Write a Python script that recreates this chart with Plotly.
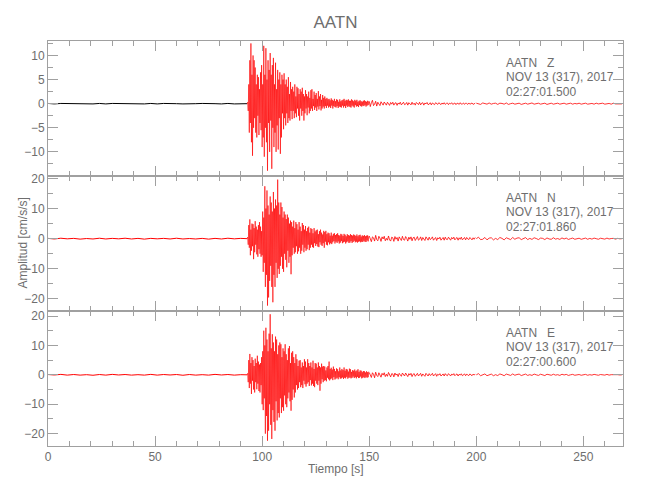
import plotly.graph_objects as go
from plotly.subplots import make_subplots

# Estación y componentes
station = "AATN"
components = ["Z", "N", "E"]
date_label = "NOV 13 (317), 2017"
start_times = ["02:27:01.500", "02:27:01.860", "02:27:00.600"]

# Inicio y paso de muestreo de cada tramo de la traza (s)
seg_t0 = [0.0, 93.0, 150.0, 200.0]
seg_dt = [3.0, 0.25, 0.5, 1.0]
x_max = 268.5

# Componente Z [cm/s/s]
z_pre = [0.05, -0.05, 0.05, 0.0, 0.05, -0.05, 0.0, -0.05, 0.05, -0.05,
         0.05, 0.0, 0.05, -0.05, 0.0, -0.05, 0.05, -0.05, 0.05, -0.05,
         0.0, -0.05, 0.05, 0.0, 0.05, -0.05, 0.0, -0.05, 0.05, -0.05,
         0.0, 0.0]
z_main = [0.0, 0.3, -1.5, 4.0, -6.0, 9.0, -4.0, 12.5, -8.0, 6.0, -10.8, 10.0,
          -5.0, 9.0, -3.0, 7.5, -6.0, 4.0, -7.0, 6.0, -2.5, 5.5, -6.5, 3.0,
          -4.0, 6.5, -5.5, 8.0, -9.0, 4.0, -7.0, 12.0, -11.0, 6.0, -5.0, 11.5,
          -8.0, 5.0, -13.9, 9.0, -4.0, 7.0, -10.0, 10.5, -3.5, 6.0, -13.5, 8.0,
          -5.0, 9.5, -9.0, 4.0, -6.0, 8.5, -10.0, 3.0, -4.5, 7.0, -9.5, 5.0,
          -3.0, 6.5, -10.4, 4.0, -7.0, 6.0, -2.0, 5.0, -5.3, 6.3, -3.0, 4.0,
          -4.5, 5.0, -2.0, 3.5, -4.0, 5.5, -3.0, 2.0, -3.5, 4.5, -1.5, 3.0,
          -3.2, 3.5, -1.5, 2.5, -3.0, 4.0, -2.0, 1.5, -2.8, 3.5, -1.0, 3.2,
          -2.5, 2.0, -3.5, 3.0, -1.0, 2.5, -2.5, 3.3, -1.5, 2.0, -3.5, 1.5,
          -2.0, 2.8, -1.0, 2.0, -2.4, 1.5, -0.8, 2.5, -2.0, 1.2, -1.5, 2.8,
          -1.0, 3.0, -1.5, 1.0, -0.5, 2.5, -1.3, 1.8, -0.8, 2.2, -1.5, 1.0,
          -0.6, 2.6, -1.2, 1.5, -0.5, 2.0, -1.4, 0.8, -1.0, 1.8, -0.6, 1.2,
          -1.0, 1.5, -0.5, 1.0, -0.9, 1.2, -0.4, 0.9, -0.8, 1.0, -0.6, 0.7,
          -0.9, 1.1, -0.4, 0.8, -1.0, 0.6, -0.5, 1.0, -0.7, 0.5, -0.8, 0.9,
          -0.5, 0.8, -0.9, 0.4, -0.6, 0.9, -0.7, 0.5, -0.8, 0.7, -0.4, 0.8,
          -0.8, 1.0, -0.5, 0.6, -0.9, 0.8, -0.4, 0.7, -0.7, 0.9, -0.5, 0.6,
          -0.7, 0.6, -0.8, 0.9, -0.4, 0.7, -0.6, 0.5, -0.8, 0.8, -0.3, 0.6,
          -0.6, 0.8, -0.5, 0.4, -0.7, 0.6, -0.3, 0.7, -0.5, 0.5, -0.6, 0.4,
          -0.4, 0.6, -0.5, 0.7, -0.3, 0.5, -0.6, 0.4, -0.4, 0.6, -0.3, 0.5]
z_coda = [0.5, -0.6, 0.2, 0.7, -0.4, -0.1, 0.5, -0.5, 0.3, -0.2,
          -0.4, 0.4, 0.1, -0.3, 0.35, -0.15, -0.3, 0.3, 0.05, -0.35,
          0.25, -0.1, 0.3, -0.3, 0.1, 0.2, -0.35, 0.15, -0.1, 0.3,
          -0.25, 0.05, 0.3, -0.2, -0.1, 0.25, -0.3, 0.2, 0.0, -0.25,
          0.3, -0.15, 0.1, -0.3, 0.25, 0.0, -0.2, 0.3, -0.25, 0.1,
          0.2, -0.3, 0.15, -0.05, 0.25, -0.2, -0.1, 0.2, -0.25, 0.15,
          0.05, -0.2, 0.2, -0.1, -0.15, 0.2, 0.0, -0.2, 0.15, -0.1,
          0.2, -0.15, 0.05, 0.15, -0.2, 0.1, -0.05, 0.2, -0.15, 0.0,
          0.15, -0.2, 0.1, 0.05, -0.15, 0.2, -0.1, -0.05, 0.15, -0.15,
          0.1, 0.05, -0.15, 0.15, -0.1, 0.0, 0.15, -0.15, 0.05, 0.1]
z_tail = [0.1, 0.05, -0.15, 0.15, -0.05, -0.1, 0.15, -0.1, 0.05, 0.1,
          -0.15, 0.1, 0.05, -0.1, 0.15, -0.15, 0.0, 0.1, -0.1, 0.05,
          0.1, -0.15, 0.05, 0.1, -0.1, 0.0, 0.15, -0.1, -0.05, 0.1,
          -0.1, 0.05, 0.1, -0.15, 0.05, 0.1, -0.1, 0.0, 0.1, -0.1,
          0.05, 0.1, -0.1, 0.0, 0.1, -0.1, 0.05, -0.05, 0.1, -0.1,
          0.0, 0.1, -0.1, 0.05, 0.05, -0.1, 0.1, -0.05, 0.0, 0.1,
          -0.1, 0.05, 0.05, -0.1, 0.1, -0.05, 0.0, 0.05, -0.05]

# Componente N [cm/s/s]
n_pre = [0.1, -0.1, 0.15, -0.05, 0.1, -0.15, 0.05, -0.1, 0.15, -0.1,
         0.1, -0.05, 0.15, -0.1, 0.1, -0.15, 0.1, -0.05, 0.1, -0.1,
         0.15, -0.1, 0.05, -0.1, 0.1, -0.15, 0.1, -0.1, 0.15, -0.05,
         0.1, 0.0]
n_main = [0.0, 0.5, -2.0, 4.5, -3.0, 6.4, -5.5, 3.0, -4.0, 5.0, -2.5, 4.8,
          -6.8, 3.5, -4.5, 5.8, -2.0, 4.0, -5.2, 3.0, -6.0, 4.5, -3.5, 5.5,
          -5.0, 4.0, -6.0, 2.5, -5.5, 9.0, -11.0, 7.0, -8.0, 17.4, -16.0, 10.0,
          -12.0, 16.0, -22.2, 11.0, -19.5, 8.0, -14.0, 14.0, -9.0, 12.0, -16.0, 9.0,
          -21.1, 15.5, -12.0, 10.0, -16.0, 13.0, -8.0, 11.0, -13.0, 19.6, -10.0, 12.0,
          -11.7, 8.0, -9.0, 12.0, -6.0, 10.5, -10.0, 7.0, -11.0, 9.0, -5.0, 8.0,
          -7.0, 6.5, -9.5, 8.0, -4.0, 7.0, -8.0, 5.0, -6.0, 6.0, -11.8, 5.5,
          -5.5, 4.0, -3.0, 6.0, -5.0, 3.5, -4.5, 5.5, -2.5, 4.8, -5.0, 3.0,
          -4.2, 5.5, -3.0, 4.0, -5.0, 2.5, -4.0, 5.2, -2.0, 4.5, -4.5, 3.0,
          -3.0, 4.2, -4.0, 2.5, -3.5, 3.6, -2.0, 4.0, -3.8, 2.0, -3.0, 3.5,
          -2.0, 3.2, -2.8, 1.8, -3.0, 3.5, -1.5, 2.4, -2.4, 2.8, -1.8, 3.0,
          -2.6, 1.5, -2.8, 2.5, -1.2, 3.0, -2.0, 2.0, -2.4, 1.4, -1.5, 2.6,
          -3.0, 2.2, -1.0, 2.6, -2.0, 1.5, -2.2, 2.0, -1.2, 1.8, -1.9, 1.0,
          -1.5, 2.0, -1.8, 1.0, -1.2, 1.6, -0.8, 1.8, -1.6, 1.2, -1.0, 1.5,
          -1.4, 1.8, -0.9, 1.2, -1.6, 1.0, -1.3, 1.6, -0.8, 1.4, -1.5, 0.9,
          -1.2, 1.6, -1.0, 1.3, -1.6, 0.8, -1.2, 1.5, -0.9, 1.2, -1.4, 1.0,
          -1.3, 1.5, -0.8, 1.2, -1.4, 1.0, -1.1, 1.4, -0.7, 1.2, -1.2, 0.9,
          -1.0, 1.4, -1.3, 0.8, -1.0, 1.2, -0.9, 1.3, -1.2, 0.7, -1.0, 1.1,
          -1.1, 0.9, -0.7, 1.2, -1.0, 0.8, -1.1, 1.0, -0.6, 1.1, -0.9, 0.8]
n_coda = [0.9, -0.4, -1.0, 0.6, 0.3, -0.8, 1.1, -0.3, -0.7, 0.8,
          0.2, -0.9, 0.6, -0.1, 0.8, -0.7, 0.1, -0.5, 0.9, -0.4,
          -0.8, 0.5, 0.3, -0.9, 0.7, -0.2, 0.4, -0.8, 0.6, 0.0,
          -0.6, 0.8, -0.3, -0.5, 0.7, 0.1, -0.8, 0.5, -0.2, 0.6,
          -0.7, 0.3, 0.5, -0.6, 0.1, 0.7, -0.5, -0.2, 0.6, -0.6,
          0.4, -0.1, -0.6, 0.6, 0.2, -0.5, 0.5, -0.3, 0.0, 0.6,
          -0.5, 0.2, 0.4, -0.6, 0.3, -0.1, 0.5, -0.5, 0.1, 0.4,
          -0.5, 0.5, -0.2, -0.3, 0.5, 0.0, -0.5, 0.4, -0.1, 0.5,
          -0.4, 0.1, 0.4, -0.5, 0.3, -0.2, 0.5, -0.4, 0.0, 0.4,
          -0.4, 0.4, -0.1, -0.3, 0.4, 0.1, -0.4, 0.3, -0.2, 0.4]
n_tail = [0.0, 0.5, -0.3, -0.2, 0.4, -0.4, 0.2, 0.3, -0.4, 0.1,
          -0.3, 0.4, 0.1, -0.4, 0.3, -0.1, -0.3, 0.4, -0.2, 0.2,
          0.3, -0.3, 0.0, 0.35, -0.3, 0.1, -0.25, 0.3, 0.05, -0.3,
          0.2, 0.1, -0.3, 0.25, -0.1, -0.2, 0.3, -0.15, 0.05, -0.25,
          0.25, -0.1, 0.2, -0.25, 0.0, 0.2, -0.2, 0.1, 0.15, -0.2,
          0.05, 0.2, -0.2, 0.1, -0.15, 0.2, 0.0, -0.2, 0.15, -0.05,
          -0.15, 0.2, -0.1, 0.05, 0.1, -0.15, 0.1, -0.05, 0.0]

# Componente E [cm/s/s]
e_pre = [0.1, -0.05, 0.15, -0.1, 0.1, -0.1, 0.05, -0.15, 0.1, -0.1,
         0.15, -0.05, 0.1, -0.1, 0.05, -0.1, 0.15, -0.1, 0.1, -0.05,
         0.1, -0.15, 0.1, -0.1, 0.05, -0.1, 0.15, -0.05, 0.1, -0.1,
         0.05, 0.0]
e_main = [0.0, 0.5, -2.5, 5.0, -4.5, 7.1, -3.0, 4.0, -6.5, 6.0, -2.0, 5.0,
          -5.0, 3.0, -6.0, 5.5, -2.5, 4.0, -4.9, 6.5, -3.0, 4.5, -5.5, 3.5,
          -6.0, 4.0, -3.5, 6.0, -10.0, 8.0, -12.0, 15.0, -8.0, 10.0, -20.0, 16.0,
          -14.0, 12.0, -22.4, 8.0, -19.0, 14.0, -10.0, 20.6, -17.0, 9.0, -21.8, 13.8,
          -12.0, 11.0, -16.0, 8.0, -19.0, 13.0, -9.0, 12.0, -15.5, 7.0, -13.0, 10.0,
          -14.5, 11.0, -8.0, 10.4, -13.0, 6.0, -11.0, 9.0, -12.2, 8.0, -7.0, 10.4,
          -10.0, 7.0, -11.0, 5.0, -8.0, 9.0, -6.0, 9.8, -9.0, 4.0, -12.2, 7.5,
          -8.5, 8.0, -5.0, 6.0, -7.7, 4.0, -6.0, 7.0, -3.5, 5.3, -5.0, 3.0,
          -4.5, 4.8, -2.5, 5.0, -4.2, 2.5, -3.5, 4.2, -4.5, 3.0, -2.0, 5.3,
          -3.2, 4.5, -4.0, 2.5, -3.0, 5.3, -2.5, 4.0, -3.8, 3.0, -1.8, 4.2,
          -3.6, 2.5, -3.0, 4.8, -3.8, 2.0, -4.2, 4.0, -2.0, 3.8, -3.0, 2.5,
          -3.5, 4.2, -2.0, 3.0, -5.4, 2.5, -3.0, 3.8, -1.5, 2.8, -2.5, 3.0,
          -2.0, 2.8, -1.8, 1.5, -2.2, 2.5, -1.0, 3.0, -1.5, 4.5, -1.9, 2.0,
          -1.5, 2.4, -1.2, 1.8, -1.8, 2.8, -0.8, 2.0, -1.6, 1.2, -1.3, 2.2,
          -1.0, 1.9, -1.5, 1.2, -0.8, 2.5, -1.3, 1.5, -1.2, 2.0, -0.9, 1.6,
          -1.4, 2.5, -1.0, 1.4, -1.2, 2.0, -0.7, 1.8, -1.3, 1.1, -1.0, 2.1,
          -0.9, 1.9, -1.2, 1.0, -1.0, 1.6, -0.6, 1.4, -1.1, 1.8, -0.8, 1.2,
          -1.2, 1.5, -0.7, 1.9, -1.1, 1.0, -1.0, 1.5, -0.6, 1.4, -1.2, 0.9,
          -1.0, 1.3, -0.8, 1.2, -1.1, 0.8, -0.7, 1.2, -1.0, 0.9, -0.8, 1.1]
e_coda = [0.8, -0.5, -0.9, 0.7, 0.2, -1.0, 0.9, -0.2, -0.6, 0.7,
          0.1, -0.8, 0.5, -0.1, 0.7, -0.6, 0.2, -0.5, 0.8, -0.3,
          -0.7, 0.4, 0.3, -0.7, 0.6, -0.1, 0.3, -0.6, 0.5, 0.0,
          -0.5, 0.6, -0.2, -0.4, 0.6, 0.1, -0.6, 0.4, -0.1, 0.5,
          -0.6, 0.2, 0.4, -0.5, 0.1, 0.5, -0.4, -0.1, 0.5, -0.5,
          0.3, -0.1, -0.5, 0.5, 0.1, -0.4, 0.4, -0.2, 0.0, 0.5,
          -0.4, 0.1, 0.4, -0.5, 0.2, -0.1, 0.4, -0.4, 0.1, 0.3,
          -0.4, 0.4, -0.1, -0.3, 0.4, 0.0, -0.4, 0.3, -0.1, 0.4,
          -0.3, 0.1, 0.3, -0.4, 0.2, -0.1, 0.35, -0.3, 0.0, 0.3,
          -0.3, 0.3, -0.1, -0.25, 0.3, 0.05, -0.3, 0.25, -0.1, 0.3]
e_tail = [0.0, 0.4, -0.3, -0.1, 0.3, -0.3, 0.1, 0.25, -0.3, 0.05,
          -0.25, 0.3, 0.05, -0.3, 0.25, -0.1, -0.2, 0.3, -0.15, 0.1,
          0.25, -0.25, 0.0, 0.25, -0.2, 0.05, -0.2, 0.25, 0.0, -0.2,
          0.2, 0.05, -0.25, 0.2, -0.05, -0.15, 0.2, -0.1, 0.05, -0.2,
          0.2, -0.05, 0.15, -0.2, 0.0, 0.15, -0.15, 0.05, 0.1, -0.15,
          0.05, 0.15, -0.15, 0.05, -0.1, 0.15, 0.0, -0.15, 0.1, -0.05,
          -0.1, 0.15, -0.1, 0.05, 0.1, -0.1, 0.05, -0.05, 0.0]

# Escalas verticales por panel
y_ranges = [[-15, 13], [-24, 20.8], [-24.2, 21.7]]
y_tickvals = [[-10, -5, 0, 5, 10], [-20, -10, 0, 10, 20], [-20, -10, 0, 10, 20]]
y_minor = [2.5, 5, 5]

traces = [(z_pre, z_main, z_coda, z_tail),
          (n_pre, n_main, n_coda, n_tail),
          (e_pre, e_main, e_coda, e_tail)]

FONT = "Liberation Sans, Arial, sans-serif"
TEXT = "#6e6e6e"
AXIS = "#a0a0a0"
seg_width = [1, 0.65, 0.8, 0.8]

fig = make_subplots(rows=3, cols=1, shared_xaxes=True, vertical_spacing=0)

for i, segments in enumerate(traces):
    row = i + 1
    for j, vals in enumerate(segments):
        # tramo previo al evento: en Z se ve la traza original en negro
        color = "black" if (i == 0 and j == 0) else "red"
        fig.add_trace(go.Scatter(x0=seg_t0[j], dx=seg_dt[j], y=vals, mode="lines",
                                 line=dict(color=color, width=seg_width[j]),
                                 showlegend=False, hoverinfo="skip"), row=row, col=1)

    fig.update_yaxes(range=y_ranges[i], tickvals=y_tickvals[i],
                     minor=dict(ticks="inside", ticklen=5, dtick=y_minor[i], tick0=0,
                                tickcolor=AXIS),
                     row=row, col=1)
    fig.update_xaxes(showticklabels=(row == 3), row=row, col=1)

    yref = "y domain" if row == 1 else f"y{row} domain"
    lines = [f"{station}\u00a0\u00a0\u00a0{components[i]}", date_label, start_times[i]]
    for k, txt in enumerate(lines):
        fig.add_annotation(text=txt, x=213, xref="x", xanchor="left",
                           y=[0.84, 0.732, 0.625][k], yref=yref, yanchor="middle",
                           showarrow=False, font=dict(family=FONT, size=12, color=TEXT))

fig.update_xaxes(range=[0, x_max], dtick=50, tick0=0, automargin=False,
                 ticks="inside", ticklen=10, tickcolor=AXIS,
                 minor=dict(ticks="inside", ticklen=5, dtick=10, tickcolor=AXIS),
                 showline=True, linecolor=AXIS, linewidth=1, mirror="ticks",
                 showgrid=False, zeroline=False,
                 tickfont=dict(family=FONT, size=12, color=TEXT))
fig.update_yaxes(ticks="inside", ticklen=10, tickcolor=AXIS, automargin=False,
                 showline=True, linecolor=AXIS, linewidth=1, mirror="ticks",
                 showgrid=False, zeroline=False,
                 tickfont=dict(family=FONT, size=12, color=TEXT))

fig.add_annotation(text="Tiempo [s]", xref="paper", x=0.5, yref="paper", y=0,
                   yshift=-23, yanchor="middle", showarrow=False,
                   font=dict(family=FONT, size=12, color=TEXT))
fig.add_annotation(text="Amplitud [cm/s/s]", textangle=-90, xref="paper", x=0,
                   xshift=-26, xanchor="center", yref="paper", y=0.5,
                   showarrow=False, font=dict(family=FONT, size=12, color=TEXT))

# la página deja 8 px de margen: el lienzo se reduce para que el marco caiga igual
fig.update_layout(
    width=642, height=492,
    margin=dict(l=40, r=27, t=33, b=54),
    paper_bgcolor="white", plot_bgcolor="white",
    title=dict(text=station, x=0.5, xref="paper", y=1 - 14 / 492, yanchor="middle",
               font=dict(family=FONT, size=17, color=TEXT)),
    showlegend=False,
)

fig.write_html("out.html")
